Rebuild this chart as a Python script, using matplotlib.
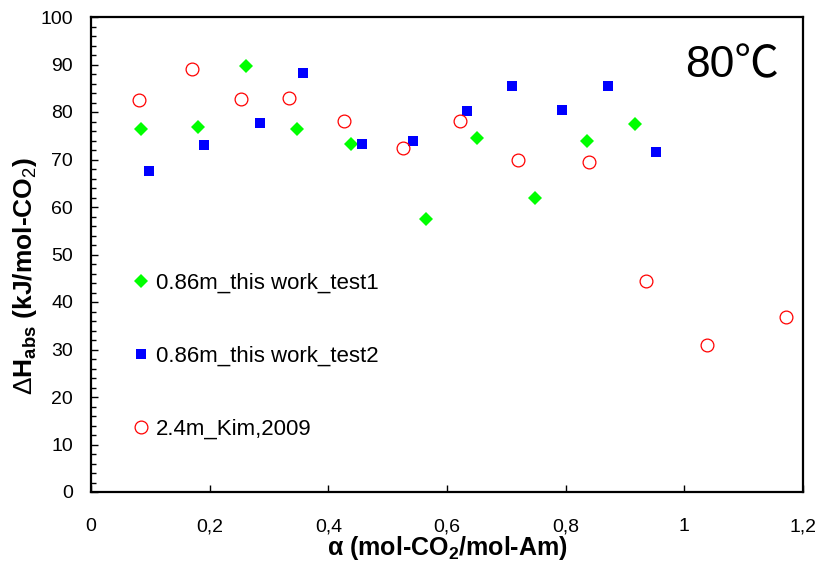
import matplotlib
matplotlib.use("Agg")
import matplotlib.pyplot as plt
from matplotlib.ticker import MultipleLocator

plt.rcParams['font.family'] = ['Liberation Sans', 'Noto Sans CJK JP', 'DejaVu Sans']
plt.rcParams['mathtext.fontset'] = 'custom'
plt.rcParams['mathtext.rm'] = 'Liberation Sans'
plt.rcParams['mathtext.it'] = 'Liberation Sans:italic'
plt.rcParams['mathtext.bf'] = 'Liberation Sans:bold'

# Heat of absorption vs CO2 loading at 80 degC
test1_alpha = [0.085, 0.181, 0.261, 0.347, 0.439, 0.565, 0.651, 0.748, 0.836, 0.917]
test1_dh = [76.4, 76.9, 89.6, 76.4, 73.3, 57.5, 74.5, 62.0, 74.0, 77.5]

test2_alpha = [0.097, 0.190, 0.284, 0.357, 0.457, 0.542, 0.634, 0.710, 0.794, 0.872, 0.952]
test2_dh = [67.6, 73.1, 77.6, 88.3, 73.3, 73.8, 80.2, 85.5, 80.4, 85.5, 71.5]

kim_alpha = [0.081, 0.170, 0.252, 0.334, 0.426, 0.525, 0.622, 0.720, 0.840, 0.936, 1.039, 1.172]
kim_dh = [82.5, 89.0, 82.7, 82.9, 78.1, 72.5, 78.2, 70.0, 69.5, 44.4, 30.9, 36.8]

labels = ['0.86m_this work_test1', '0.86m_this work_test2', '2.4m_Kim,2009']
x_ticks = [0, 0.2, 0.4, 0.6, 0.8, 1.0, 1.2]
x_ticklabels = ['0', '0,2', '0,4', '0,6', '0,8', '1', '1,2']
y_ticks = list(range(0, 101, 10))

fig = plt.figure(figsize=(8.21, 5.63), dpi=100)
ax = fig.add_axes([91 / 821, 71 / 563, 712 / 821, 475 / 563])

ax.plot(test1_alpha, test1_dh, linestyle='none', marker='D', markersize=7.6,
        color='#00ff00', markeredgewidth=0, label=labels[0])
ax.plot(test2_alpha, test2_dh, linestyle='none', marker='s', markersize=7.9,
        color='#0000ff', markeredgewidth=0, label=labels[1])
ax.plot(kim_alpha, kim_dh, linestyle='none', marker='o', markersize=9.2,
        markerfacecolor='none', markeredgecolor='#ff0000', markeredgewidth=0.9,
        label=labels[2])

ax.set_xlim(0, 1.2)
ax.set_ylim(0, 100)
ax.set_xticks(x_ticks)
ax.set_xticklabels(x_ticklabels)
ax.set_yticks(y_ticks)
ax.yaxis.set_minor_locator(MultipleLocator(2))

for s in ax.spines.values():
    s.set_linewidth(1.6)
    s.set_color('black')

ax.tick_params(axis='x', which='major', direction='in', length=5, width=1.0,
               labelsize=14, pad=19, top=False)
ax.tick_params(axis='y', which='major', direction='in', length=5, width=1.0,
               labelsize=14, pad=13, right=False)
ax.tick_params(axis='y', which='minor', direction='in', length=3.5, width=1.0,
               right=False)
ax.tick_params(axis='x', which='minor', bottom=False, top=False)

ax.set_xlabel(r'α (mol-CO$_\mathbf{2}$/mol-Am)', fontsize=18, fontweight='bold',
              labelpad=-1)
ax.set_ylabel(r'$\mathrm{\Delta}\mathbf{H_{abs}}$ (kJ/mol-CO$_\mathrm{2}$)',
              fontsize=19, fontweight='bold', va='center')
ax.yaxis.set_label_coords(-0.0927, 0.455)

ax.text(0.966, 0.874, '80℃', transform=ax.transAxes, fontsize=32,
        ha='right', va='baseline')

leg = ax.legend(loc='upper left', bbox_to_anchor=(0.058, 0.462), frameon=False,
                fontsize=16, handlelength=0.75, handletextpad=0.3,
                labelspacing=2.35, borderpad=0, borderaxespad=0, numpoints=1)

fig.savefig('out.png', dpi=100)
